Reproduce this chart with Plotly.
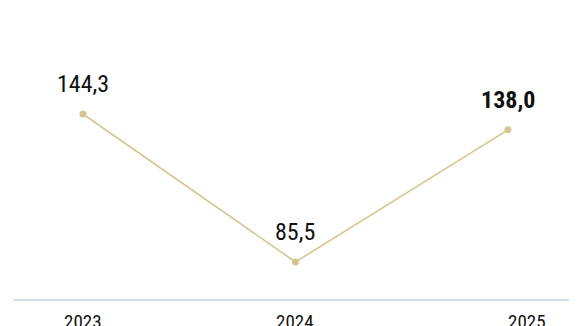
import plotly.graph_objects as go

years = ["2023", "2024", "2025"]
values = [144.3, 85.5, 138.0]

labels = [f"{v:.1f}".replace(".", ",") for v in values]
labels[-1] = f"<b>{labels[-1]}</b>"

FONT = "Roboto Condensed, DejaVu Sans Condensed, sans-serif"
LINE = "#d6c48f"

fig = go.Figure()
fig.add_trace(go.Scatter(
    x=[0, 1, 2], y=values,
    mode="lines+markers",
    line=dict(color=LINE, width=1.6),
    marker=dict(color=LINE, size=7),
    cliponaxis=False,
    hoverinfo="skip",
))

for i, (v, lab) in enumerate(zip(values, labels)):
    fig.add_annotation(
        x=i, y=v, xref="x", yref="y",
        text=lab, showarrow=False,
        yanchor="bottom", yshift=14,
        font=dict(family=FONT, size=24, color="#111111"),
    )

shifts = [0, 0, 19]
for i, yr in enumerate(years):
    fig.add_annotation(
        x=i, y=0, xref="x", yref="paper",
        text=yr, showarrow=False,
        yanchor="top", yshift=-8, xshift=shifts[i],
        font=dict(family=FONT, size=19, color="#111111"),
    )

fig.update_layout(
    width=569, height=318,
    margin=dict(l=5, r=0, t=0, b=26),
    paper_bgcolor="white", plot_bgcolor="white",
    showlegend=False,
    xaxis=dict(range=[-0.329, 2.325], showgrid=False, zeroline=False,
               showticklabels=False, ticks="", showline=False, fixedrange=True),
    yaxis=dict(range=[70.4, 186.4], showgrid=False, zeroline=False,
               showticklabels=False, ticks="", showline=False, fixedrange=True),
    shapes=[dict(type="line", xref="paper", yref="paper", x0=0, x1=1, y0=0, y1=0,
                 line=dict(color="#a9bacb", width=1.2))],
)

fig.write_html("out.html")
